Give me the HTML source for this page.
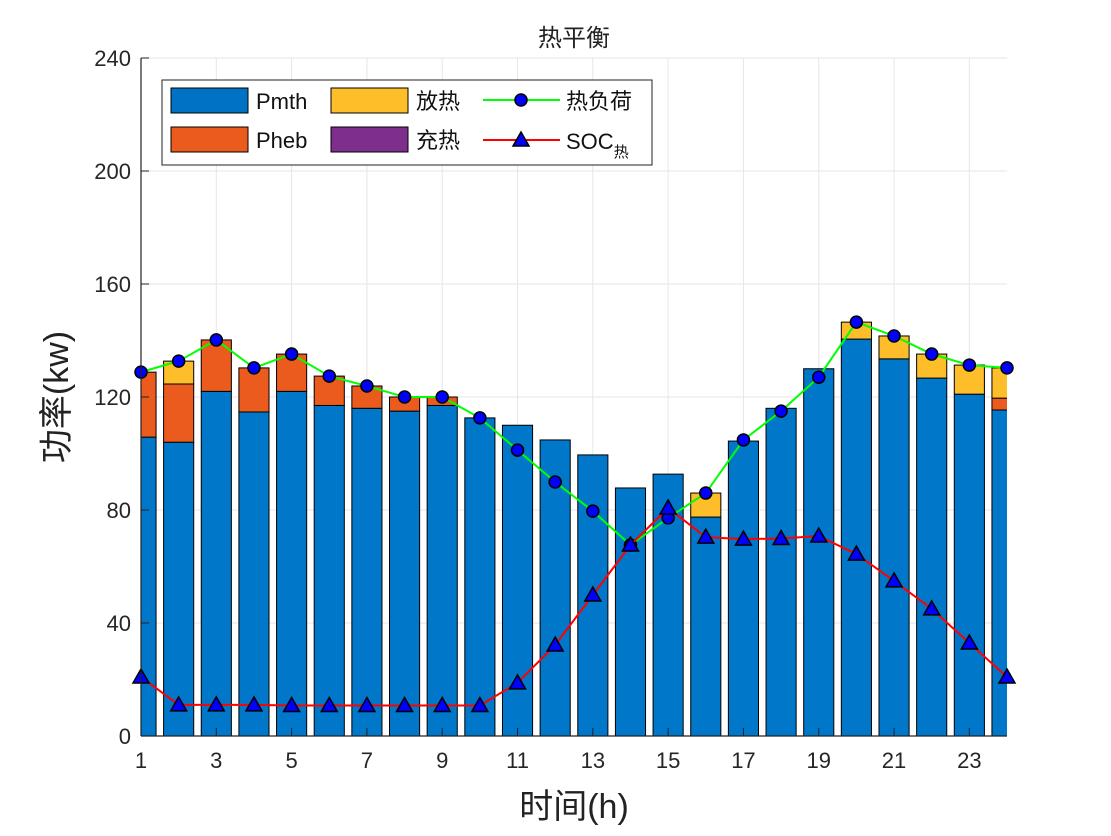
<!DOCTYPE html>
<html><head><meta charset="utf-8"><style>
body{margin:0;background:#fff;}
svg text{font-family:"Liberation Sans","Noto Sans CJK SC",sans-serif;}
</style></head><body>
<svg id="chart" width="1111" height="831" xmlns="http://www.w3.org/2000/svg">
<defs><clipPath id="plotclip"><rect x="141" y="58" width="866" height="678"/></clipPath></defs>
<rect width="1111" height="831" fill="#fff"/>
<g id="grid"></g>
<g id="bars" clip-path="url(#plotclip)"></g>
<g id="lines"></g>
<g id="axes"></g>
<text x="574" y="46" font-size="24" text-anchor="middle" fill="#222">热平衡</text>
<text x="0" y="0" font-size="34" text-anchor="middle" fill="#222" transform="translate(68,397) rotate(-90)">功率(kw)</text>
<text x="574" y="818" font-size="34" text-anchor="middle" fill="#222">时间(h)</text>
<g>
<rect x="162" y="80" width="490" height="85" fill="#fff" stroke="#222" stroke-width="1"/>
<rect x="171" y="88" width="77" height="25" fill="#0072C6" stroke="#000"/>
<text x="256" y="109" font-size="22" fill="#111">Pmth</text>
<rect x="171" y="127" width="77" height="25" fill="#EB5B1E" stroke="#000"/>
<text x="256" y="148" font-size="22" fill="#111">Pheb</text>
<rect x="331" y="88" width="77" height="25" fill="#FDBE2A" stroke="#000"/>
<text x="416" y="109" font-size="22" fill="#111">放热</text>
<rect x="331" y="127" width="77" height="25" fill="#7E2F8E" stroke="#000"/>
<text x="416" y="148" font-size="22" fill="#111">充热</text>
<line x1="483" y1="100" x2="560" y2="100" stroke="#00FF00" stroke-width="2"/>
<circle cx="521" cy="100" r="6" fill="#0000FF" stroke="#000" stroke-width="1.5"/>
<text x="566" y="109" font-size="22" fill="#111">热负荷</text>
<line x1="483" y1="140" x2="560" y2="140" stroke="#FF0000" stroke-width="2"/>
<polygon points="521,132 529,146 513,146" fill="#0000FF" stroke="#000" stroke-width="1.5"/>
<text x="566" y="149" font-size="22" fill="#111">SOC<tspan font-size="15" dy="8">热</tspan></text>
</g>
</svg>
<script>
const hours=[1,2,3,4,5,6,7,8,9,10,11,12,13,14,15,16,17,18,19,20,21,22,23,24];
const pmth=[105.8,104,122,114.7,122,117,116,115,117,112.6,110,104.8,99.5,87.8,92.7,77.5,104.4,116,130,140.5,133.5,126.7,121,115.4];
const pheb=[23,20.6,18.2,15.6,13.2,10.4,7.9,5,3,0,0,0,0,0,0,0,0,0,0,0,0,0,0,4.2];
const discharge=[0,8.1,0,0,0,0,0,0,0,0,0,0,0,0,0,8.5,0,0,0,6,8.1,8.5,10.3,10.7];
const charge=[0,0,0,0,0,0,0,0,0,0,0,0,0,0,0,0,0,0,0,0,0,0,0,0];
const heatLoad=[128.8,132.7,140.2,130.3,135.2,127.4,123.9,120,120,112.6,101.2,89.9,79.6,67.6,77.2,86,104.8,115,127,146.5,141.6,135.2,131.3,130.3];
const soc=[20.9,11,11,11,10.8,10.8,10.8,10.8,10.8,10.8,18.8,32.2,49.9,67.6,80.7,70.4,69.7,69.9,70.8,64.4,54.9,45,32.9,20.9];
const yTicks=[0,40,80,120,160,200,240];
const xTicks=[1,3,5,7,9,11,13,15,17,19,21,23];
const X0=141,X1=1007,Y0=736,Y1=58;
const xs=h=>X0+(h-1)*(X1-X0)/23;
const ys=v=>Y0-v*(Y0-Y1)/240;
const NS='http://www.w3.org/2000/svg';
function mk(tag,attrs,parent){const e=document.createElementNS(NS,tag);for(const k in attrs)e.setAttribute(k,attrs[k]);parent.appendChild(e);return e;}
const grid=document.getElementById('grid'),bars=document.getElementById('bars'),lines=document.getElementById('lines'),axes=document.getElementById('axes');
yTicks.forEach(t=>{
 mk('line',{x1:X0,x2:X1,y1:ys(t),y2:ys(t),stroke:'#e6e6e6','stroke-width':1},grid);
 const tx=mk('text',{x:X0-10,y:ys(t)+8,'font-size':22,'text-anchor':'end',fill:'#262626'},axes);
 tx.textContent=t;
 
 
 mk('line',{x1:X0,x2:X0+8,y1:ys(t),y2:ys(t),stroke:'#222'},axes);
});
xTicks.forEach(t=>{
 mk('line',{x1:xs(t),x2:xs(t),y1:Y0,y2:Y1,stroke:'#e6e6e6','stroke-width':1},grid);
 const tx=mk('text',{x:xs(t),y:Y0+32,'font-size':22,'text-anchor':'middle',fill:'#262626'},axes);
 tx.textContent=t;
 
 
 mk('line',{x1:xs(t),x2:xs(t),y1:Y0,y2:Y0-8,stroke:'#222'},axes);
});
mk('line',{x1:X0,x2:X0,y1:Y0,y2:Y1,stroke:'#222','stroke-width':1.2},axes);
mk('line',{x1:X0,x2:X1,y1:Y0,y2:Y0,stroke:'#222','stroke-width':1.2},axes);
const bw=0.8*(X1-X0)/23;
hours.forEach((h,i)=>{
 let base=0;
 [[pmth,'#0077C8','bar-pmth'],[pheb,'#EB5B1E','bar-pheb'],[discharge,'#FDBE2A','bar-discharge'],[charge,'#7E2F8E','bar-charge']].forEach(([arr,c,n])=>{
  const v=arr[i]; if(v<=0)return;
  const r=mk('rect',{x:xs(h)-bw/2,y:ys(base+v),width:bw,height:ys(base)-ys(base+v),fill:c,stroke:'#000','stroke-width':1},bars);
  
  
  base+=v;
 });
});
function line(arr,color,marker,name){
 const p=mk('polyline',{points:arr.map((v,i)=>xs(hours[i])+','+ys(v)).join(' '),fill:'none',stroke:color,'stroke-width':2},lines);
 
 
 arr.forEach((v,i)=>{
  const x=xs(hours[i]),y=ys(v);let m;
  if(marker==='c')m=mk('circle',{cx:x,cy:y,r:6,fill:'#0000FF',stroke:'#000','stroke-width':1.5},lines);
  else m=mk('polygon',{points:`${x},${y-8} ${x+8},${y+6} ${x-8},${y+6}`,fill:'#0000FF',stroke:'#000','stroke-width':1.5},lines);
  
  
 });
}
line(heatLoad,'#00FF00','c','heat-load');
line(soc,'#FF0000','t','soc');
</script>
</body></html>
